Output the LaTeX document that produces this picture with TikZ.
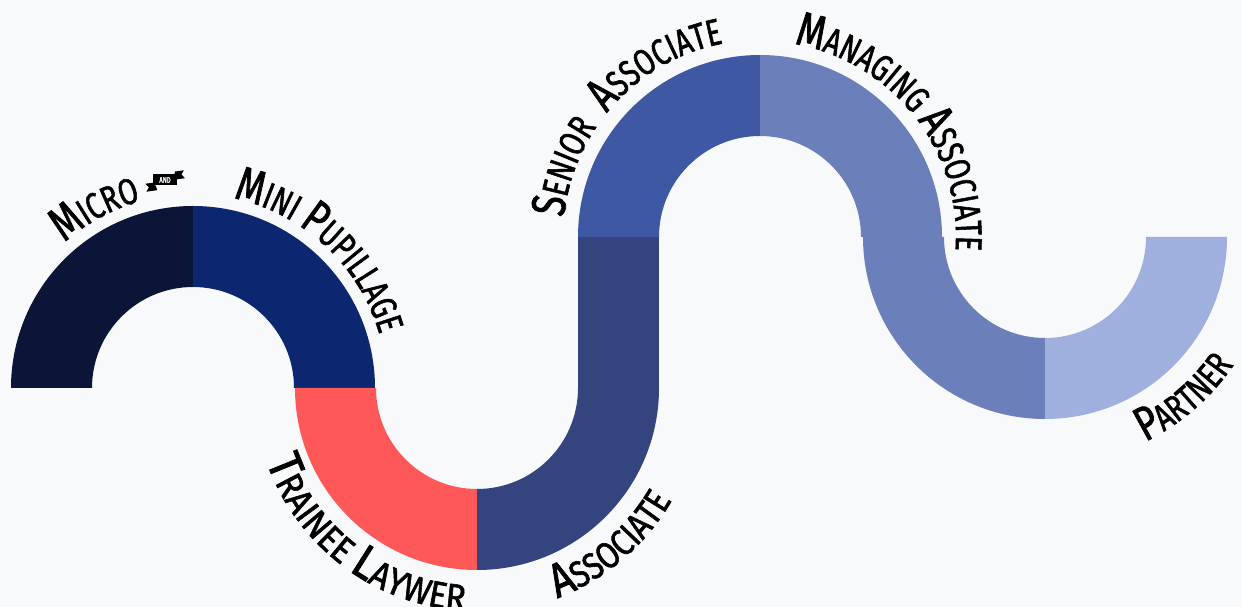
\documentclass[tikz,border=0pt]{standalone}
\usepackage{fontspec}
\usetikzlibrary{calc,decorations.text}
\newfontfamily\lbl{Fira Sans}[FakeStretch=0.75, FakeBold=1.5]
\newfontfamily\lblm{Fira Sans}[FakeStretch=0.83, FakeBold=1.5]
\newfontfamily\lblw{Fira Sans}[FakeStretch=0.9, FakeBold=1.5]
\newcommand\capsz{\lbl\fontsize{48}{48}\selectfont}
\newcommand\smsz{\lbl\fontsize{37}{37}\selectfont}
\newcommand\capm{\lblm\fontsize{48}{48}\selectfont}
\newcommand\smm{\lblm\fontsize{37}{37}\selectfont}
\newcommand\capw{\lblw\fontsize{48}{48}\selectfont}
\newcommand\smw{\lblw\fontsize{37}{37}\selectfont}
\definecolor{bgc}{HTML}{F8F9FA}
\definecolor{cA}{HTML}{0A1538}
\definecolor{cB}{HTML}{0D2670}
\definecolor{cC}{HTML}{FF5858}
\definecolor{cD}{HTML}{34447F}
\definecolor{cE}{HTML}{3F58A3}
\definecolor{cF}{HTML}{6B7FBA}
\definecolor{cG}{HTML}{A0B0DE}
\tikzset{
  curvetext/.style={decorate, decoration={text along path, text align=center, text={#1}}},
}
\newcommand\quarter[4]{% center, start angle, end angle, color
  \fill[#4] ($(#1)+(#2:182)$) arc[start angle=#2, end angle=#3, radius=182]
    -- ($(#1)+(#3:101)$) arc[start angle=#3, end angle=#2, radius=101] -- cycle;}
\begin{document}
\begin{tikzpicture}[x=1pt,y=1pt]
\useasboundingbox (0,0) rectangle (1242,607);
\fill[bgc] (0,0) rectangle (1242,607);
\coordinate (C1) at (193,219);
\coordinate (C2) at (477,219);
\coordinate (C3) at (760,370);
\coordinate (C4) at (1045,370);
% rings
\quarter{C1}{90}{180}{cA}
\quarter{C1}{0}{90}{cB}
\quarter{C2}{180}{270}{cC}
\quarter{C2}{270}{360}{cD}
\fill[cD] (578,219) rectangle (659,370.5);
\quarter{C3}{90}{180}{cE}
\quarter{C3}{0}{90}{cF}
\quarter{C4}{180}{270}{cF}
\quarter{C4}{270}{360}{cG}
% labels (tops outward)
\path[curvetext={|\capsz|M|\smsz|ICRO}] ($(C1)+(178.5:194)$) arc[start angle=178.5, end angle=58.5, radius=194];
\path[curvetext={|\capsz|M|\smsz|INI |\capsz|P|\smsz|UPILLAGE}] ($(C1)+(107:194)$) arc[start angle=107, end angle=-13, radius=194];
\path[curvetext={|\capsz|S|\smsz|ENIOR|\capsz| {\kern7pt}A|\smsz|SSOCIATE}] ($(C3)+(197.5:197)$) arc[start angle=197.5, end angle=77.5, radius=197];
\path[curvetext={|\capsz|M|\smsz|ANAGING |\capsz|A|\smsz|SSOCIATE}] ($(C3)+(98:196)$) arc[start angle=98, end angle=-22, radius=196];
% labels (tops inward)
\path[curvetext={|\capw|T|\smw|RAINEE |\capw|L|\smw|AYWER}] ($(C2)+(173:223)$) arc[start angle=173, end angle=293, radius=223];
\path[curvetext={|\capm|A|\smm|SSOCIATE}] ($(C2)+(260.5:225)$) arc[start angle=260.5, end angle=360.5, radius=225];
\path[curvetext={|\capsz|P|\smsz|ARTNER}] ($(C4)+(261:228)$) arc[start angle=261, end angle=361, radius=228];
% "and" ribbon
\begin{scope}[shift={(165,427)}, rotate=8]
  \fill[black] (-11,-1) -- (-20,-1) -- (-17,-5) -- (-20,-9) -- (-9,-9) -- cycle;
  \fill[black] (11,7) -- (20,7) -- (17,3) -- (20,-1) -- (9,-1) -- cycle;
  \node[fill=black, text=white, inner sep=1.2pt, minimum width=24pt, minimum height=11pt, font=\lbl\fontsize{8}{8}\selectfont] (and) at (0,0) {AND};
\end{scope}
\end{tikzpicture}
\end{document}
